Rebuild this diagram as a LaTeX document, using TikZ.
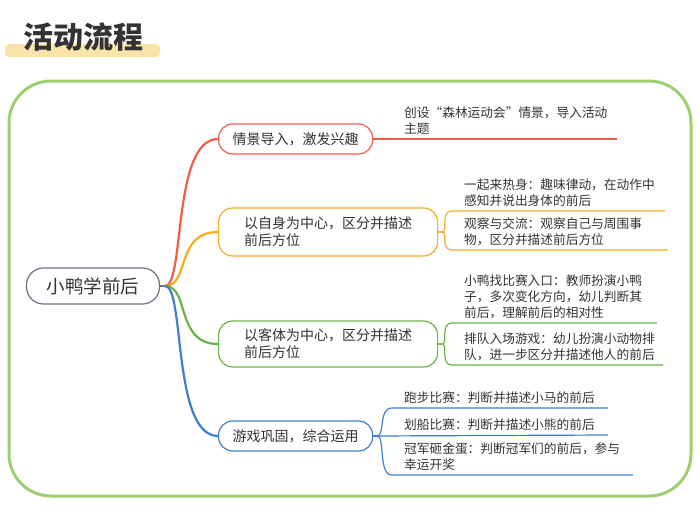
\documentclass[tikz,border=0pt]{standalone}
\usepackage{fontspec}
\setmainfont{Noto Sans CJK SC}
\usetikzlibrary{positioning}
\definecolor{framegreen}{HTML}{9DCF6E}
\definecolor{hlyellow}{HTML}{FAE4AA}
\definecolor{rootgray}{HTML}{6B7385}
\definecolor{cred}{HTML}{EE5E4C}
\definecolor{corange}{HTML}{F4AC1E}
\definecolor{cgreen}{HTML}{6AB440}
\definecolor{cblue}{HTML}{3E7ED0}
\definecolor{txt}{HTML}{333333}
\tikzset{
  topic/.style={draw, rounded corners=14pt, line width=1.2pt, fill=white, text=txt,
    font=\fontsize{14}{17}\selectfont, align=left, inner xsep=12pt, inner ysep=5pt},
  leaf/.style={anchor=south west, text=txt, font=\fontsize{12.7}{16}\selectfont,
    align=left, inner sep=2pt},
  branch/.style={line width=2.2pt},
  twig/.style={line width=1.2pt}
}
\begin{document}
\begin{tikzpicture}[x=1pt,y=-1pt]
\useasboundingbox (0,0) rectangle (700,522);

% title
\fill[hlyellow, rounded corners=4pt] (5,44) rectangle (160,57);
\node[anchor=west, text=txt, font=\fontsize{30}{30}\selectfont\bfseries] (title) at (20,37) {活动流程};

% frame
\draw[framegreen, line width=3pt, rounded corners=42pt] (9,81) rectangle (691,496);

% root
\node[draw=rootgray, line width=1.2pt, rounded corners=17pt, minimum width=133pt,
  minimum height=36pt, font=\fontsize{18.5}{20}\selectfont, text=txt] (root) at (93,286) {小鸭学前后};
\coordinate (hub) at (165,286);
\draw[rootgray, line width=2pt] (root.east) -- (hub);

% topics
\node[topic, draw=cred, anchor=west, minimum height=30pt, minimum width=154pt] (t1) at (218,139) {情景导入，激发兴趣};
\node[topic, draw=corange, anchor=west, minimum height=48pt, minimum width=219pt] (t2) at (218,232) {以自身为中心，区分并描述\\前后方位};
\node[topic, draw=cgreen, anchor=west, minimum height=46pt, minimum width=219pt] (t3) at (218,344) {以客体为中心，区分并描述\\前后方位};
\node[topic, draw=cblue, anchor=west, minimum height=30pt, minimum width=154pt] (t4) at (218,436) {游戏巩固，综合运用};

\draw[branch, cred] (hub) .. controls (185,286) and (172,139) .. (t1.west);
\draw[branch, corange] (hub) .. controls (190,286) and (175,232) .. (t2.west);
\draw[branch, cgreen] (hub) .. controls (190,286) and (175,344) .. (t3.west);
\draw[branch, cblue] (hub) .. controls (185,286) and (172,436) .. (t4.west);

% leaves of t1
\coordinate (e1) at (617,139);
\node[leaf] (l11) at (402,137) {创设“森林运动会”情景，导入活动\\主题};
\draw[twig, cred] (t1.east) -- (e1);

% leaves of t2
\coordinate (e21) at (665,211);
\coordinate (e22) at (668,250);
\node[leaf] (l21) at (462,209) {一起来热身：趣味律动，在动作中\\感知并说出身体的前后};
\node[leaf] (l22) at (462,248) {观察与交流：观察自己与周围事\\物，区分并描述前后方位};
\draw[twig, corange] (t2.east) -- +(4,0) .. controls +(6,0) and (440,211) .. (452,211) -- (e21);
\draw[twig, corange] (t2.east) -- +(4,0) .. controls +(6,0) and (440,250) .. (452,250) -- (e22);

% leaves of t3
\coordinate (e31) at (657,323);
\coordinate (e32) at (663,365);
\node[leaf] (l31) at (462,321) {小鸭找比赛入口：教师扮演小鸭\\子，多次变化方向，幼儿判断其\\前后，理解前后的相对性};
\node[leaf] (l32) at (462,363) {排队入场游戏：幼儿扮演小动物排\\队，进一步区分并描述他人的前后};
\draw[twig, cgreen] (t3.east) -- +(4,0) .. controls +(6,0) and (440,323) .. (452,323) -- (e31);
\draw[twig, cgreen] (t3.east) -- +(4,0) .. controls +(6,0) and (440,365) .. (452,365) -- (e32);

% leaves of t4
\coordinate (e41) at (608,408);
\coordinate (e42) at (608,435);
\coordinate (e43) at (633,475);
\node[leaf] (l41) at (402,406) {跑步比赛：判断并描述小马的前后};
\node[leaf] (l42) at (402,433) {划船比赛：判断并描述小熊的前后};
\node[leaf] (l43) at (402,473) {冠军砸金蛋：判断冠军们的前后，参与\\幸运开奖};
\draw[twig, cblue] (t4.east) -- +(4,0) .. controls +(8,0) and (378,408) .. (392,408) -- (e41);
\draw[twig, cblue] (t4.east) -- (e42);
\draw[twig, cblue] (t4.east) -- +(4,0) .. controls +(8,0) and (378,475) .. (392,475) -- (e43);
\end{tikzpicture}
\end{document}
